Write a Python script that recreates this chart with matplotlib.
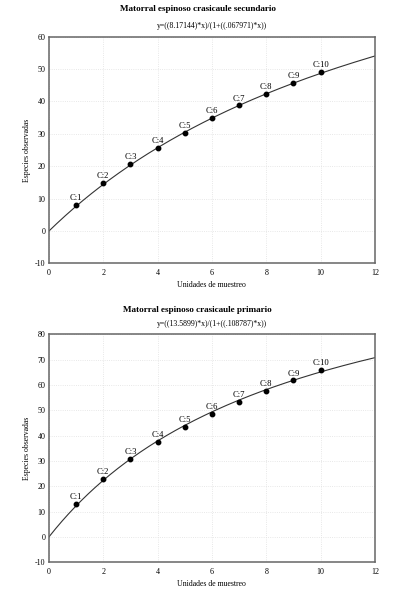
import numpy as np
import matplotlib
matplotlib.use("Agg")
import matplotlib.pyplot as plt

plt.rcParams['font.family'] = ['Liberation Serif', 'DejaVu Serif']
plt.rcParams['axes.unicode_minus'] = False

units = [1, 2, 3, 4, 5, 6, 7, 8, 9, 10]
point_labels = ["C:1", "C:2", "C:3", "C:4", "C:5", "C:6", "C:7", "C:8", "C:9", "C:10"]

sec_obs = [8.1, 14.8, 20.6, 25.7, 30.3, 34.8, 38.8, 42.3, 45.8, 49.1]
sec_a, sec_b = 8.17144, 0.067971
sec_title = "Matorral espinoso crasicaule secundario"
sec_eq = "y=((8.17144)*x)/(1+((.067971)*x))"

pri_obs = [12.9, 22.9, 30.9, 37.6, 43.4, 48.5, 53.4, 57.6, 61.8, 65.8]
pri_a, pri_b = 13.5899, 0.108787
pri_title = "Matorral espinoso crasicaule primario"
pri_eq = "y=((13.5899)*x)/(1+((.108787)*x))"

fig = plt.figure(figsize=(3.95, 6.0), dpi=100)

def panel(rect, obs, a, b, eq, ylim, yticks):
    ax = fig.add_axes(rect)
    xs = np.linspace(0, 12, 300)
    ax.plot(xs, a * xs / (1 + b * xs), color='#333333', lw=0.8)
    ax.plot(units, obs, 'o', color='black', ms=3.2)
    for x, y, lab in zip(units, obs, point_labels):
        ax.annotate(lab, (x, y), xytext=(0, 2.0), textcoords='offset points',
                    ha='center', va='bottom', fontsize=6.2)
    ax.set_xlim(0, 12)
    ax.set_ylim(*ylim)
    ax.set_xticks(range(0, 13, 2))
    ax.set_yticks(yticks)
    ax.tick_params(length=0, labelsize=5.8, pad=2.5)
    ax.tick_params(axis='x', pad=4)
    ax.grid(True, color='#e0e0e0', ls=':', lw=0.6)
    for s in ax.spines.values():
        s.set_color('#666666')
        s.set_linewidth(1.1)
    ax.set_xlabel("Unidades de muestreo", fontsize=5.6, labelpad=3)
    ax.set_ylabel("Especies observadas", fontsize=5.6, labelpad=3)
    ax.set_title(eq, fontsize=5.6, pad=6)
    return ax

ax1 = panel([0.124, 0.561, 0.825, 0.378], sec_obs, sec_a, sec_b, sec_eq,
            (-10, 60), range(-10, 61, 10))
ax2 = panel([0.124, 0.063, 0.825, 0.380], pri_obs, pri_a, pri_b, pri_eq,
            (-10, 80), range(-10, 81, 10))

fig.text(0.5, 1 - 9/600, sec_title, ha='center', va='center', fontsize=6.6, fontweight='bold')
fig.text(0.5, 1 - 310/600, pri_title, ha='center', va='center', fontsize=6.6, fontweight='bold')

fig.savefig("out.png", dpi=100)
